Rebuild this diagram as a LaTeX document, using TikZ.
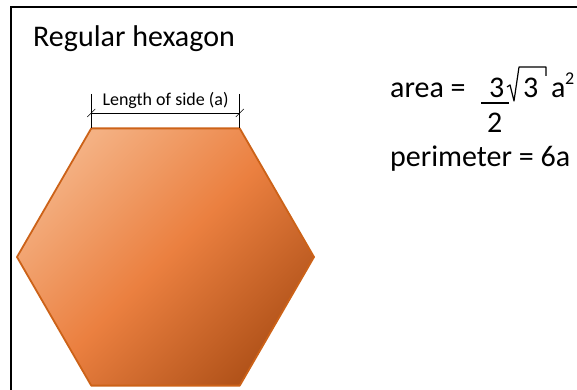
\documentclass[tikz,border=0pt]{standalone}
\usepackage{fontspec}
\setmainfont{Carlito}
\usepackage{tikz}
\definecolor{HexagonEdge}{HTML}{CC6218}
\definecolor{HexagonLight}{HTML}{F4B183}
\definecolor{HexagonMid}{HTML}{EB8040}
\definecolor{HexagonDark}{HTML}{B2531A}
\definecolor{HexagonInk}{HTML}{000000}

\begin{document}
\begin{tikzpicture}[x=1pt,y=-1pt,
    bigtext/.style={font=\fontsize{30}{36}\selectfont,inner sep=0pt,anchor=base west},
    smalltext/.style={font=\fontsize{18}{21}\selectfont,inner sep=0pt,anchor=base}]
      \useasboundingbox (0,0) rectangle (577,390);
      \draw[HexagonInk,line width=2pt] (11,392) |- (579,7);
      \coordinate (hexTL) at (91.25,128.4);
      \coordinate (hexTR) at (239.75,128.4);
      \coordinate (hexR) at (314,257);
      \coordinate (hexBR) at (239.75,385.6);
      \coordinate (hexBL) at (91.25,385.6);
      \coordinate (hexL) at (17,257);
      \shadedraw[draw=HexagonEdge,line width=1.8pt,line join=round,top color=HexagonLight,bottom color=HexagonDark,middle color=HexagonMid,shading angle=45]
        (hexTL) -- (hexTR) -- (hexR) -- (hexBR) -- (hexBL) -- (hexL) -- cycle;
      \coordinate (dimTopL) at (91.25,94);
      \coordinate (dimTopR) at (239.75,94);
      \coordinate (dimL) at (91.25,113);
      \coordinate (dimR) at (239.75,113);
      \draw[HexagonInk,line width=0.7pt] (dimTopL) -- (hexTL);
      \draw[HexagonInk,line width=0.7pt] (dimTopR) -- (hexTR);
      \draw[HexagonInk,line width=0.7pt] (dimL) -- (dimR);
      \draw[HexagonInk,line width=0.7pt] (dimL) ++(-4,4) -- ++(8,-8);
      \draw[HexagonInk,line width=0.7pt] (dimR) ++(-4,4) -- ++(8,-8);
      \node[smalltext] (sideLabel) at (165.5,106) {Length of side (a)};
      \node[bigtext] (title) at (33,47) {Regular hexagon};
      \node[bigtext] (areaLabel) at (390,98) {area =};
      \node[bigtext] (areaNum) at (489,98) {3};
      \node[bigtext] (areaDen) at (487,132) {2};
      \draw[HexagonInk,line width=1.4pt] (481,103) -- (509,103);
      \draw[HexagonInk,line width=1.2pt,line join=round] (507,87) -- (510,85) -- (514,101) -- (519,67) -- (546,67) -- (546,76);
      \node[bigtext] (rootArg) at (523,98) {3};
      \node[bigtext] (areaVar) at (551,98) {a};
      \node[font=\fontsize{18}{20}\selectfont,inner sep=0pt,anchor=base west] (areaExp) at (565,85) {2};
      \node[bigtext] (perimLabel) at (390,166) {perimeter = 6a};
    \end{tikzpicture}
\end{document}
